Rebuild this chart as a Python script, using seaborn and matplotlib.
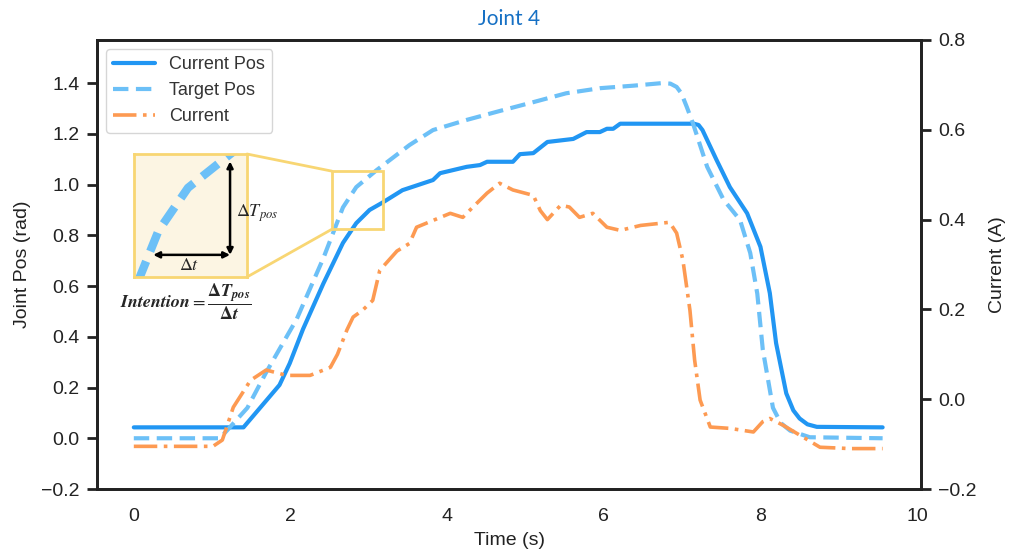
import numpy as np
import pandas as pd
import matplotlib
matplotlib.use("Agg")
import matplotlib.pyplot as plt
import seaborn as sns
from matplotlib.patches import Rectangle, ConnectionPatch

# ---------------- data ----------------
cur_pos_t = [0.0, 1.40, 1.86, 1.99, 2.16, 2.42, 2.67, 2.84, 3.01, 3.18, 3.43, 3.82, 3.91,
             4.25, 4.42, 4.51, 4.84, 4.93, 5.10, 5.28, 5.61, 5.78, 5.95, 6.04, 6.12, 6.21,
             7.15, 7.21, 7.26, 7.44, 7.61, 7.83, 8.00, 8.12, 8.20, 8.33, 8.42, 8.50, 8.60, 8.72, 9.56]
cur_pos_v = [0.043, 0.043, 0.21, 0.295, 0.43, 0.61, 0.77, 0.848, 0.90, 0.93, 0.978, 1.018, 1.045,
             1.07, 1.077, 1.09, 1.09, 1.12, 1.124, 1.168, 1.18, 1.207, 1.207, 1.22, 1.22, 1.24,
             1.24, 1.235, 1.215, 1.097, 0.99, 0.887, 0.755, 0.572, 0.375, 0.177, 0.11, 0.078, 0.055, 0.045, 0.043]

tgt_pos_t = [0.0, 1.10, 1.45, 1.69, 1.95, 2.08, 2.42, 2.67, 2.84, 3.10, 3.52, 3.82, 4.25,
             4.67, 5.10, 5.52, 5.95, 6.38, 6.74, 6.85, 6.93, 6.99, 7.06, 7.14, 7.32, 7.53, 7.74, 7.87,
             7.96, 8.03, 8.16, 8.26, 8.38, 8.63, 9.56]
tgt_pos_v = [0.0, 0.0, 0.12, 0.26, 0.40, 0.47, 0.71, 0.91, 0.99, 1.057, 1.156, 1.215, 1.255,
             1.29, 1.325, 1.36, 1.38, 1.39, 1.40, 1.398, 1.385, 1.36, 1.306, 1.24, 1.07, 0.94, 0.86, 0.73,
             0.57, 0.35, 0.12, 0.06, 0.03, 0.004, 0.0]

current_t = [0.0, 1.01, 1.13, 1.27, 1.49, 1.69, 1.95, 2.25, 2.51, 2.60, 2.72, 2.80, 2.92,
             3.05, 3.14, 3.36, 3.52, 3.61, 4.04, 4.20, 4.33, 4.51, 4.67, 4.84, 5.10, 5.19,
             5.28, 5.45, 5.56, 5.69, 5.86, 6.04, 6.21, 6.47, 6.84, 6.93, 7.01, 7.10, 7.16,
             7.23, 7.36, 7.61, 7.91, 8.03, 8.12, 8.29, 8.54, 8.76, 9.15, 9.56]
current_v = [-0.105, -0.105, -0.091, -0.018, 0.042, 0.065, 0.053, 0.053, 0.071, 0.10, 0.154, 0.183, 0.198,
             0.22, 0.287, 0.33, 0.347, 0.383, 0.414, 0.405, 0.428, 0.459, 0.481, 0.466, 0.454, 0.42,
             0.40, 0.432, 0.428, 0.405, 0.414, 0.383, 0.376, 0.387, 0.394, 0.37, 0.31, 0.198, 0.087,
             -0.002, -0.062, -0.065, -0.073, -0.05, -0.043, -0.058, -0.084, -0.107, -0.11, -0.11]

labels = ["Current Pos", "Target Pos", "Current"]
title = "Joint 4"
left_ticks = [-0.2, 0.0, 0.2, 0.4, 0.6, 0.8, 1.0, 1.2, 1.4]
right_ticks = [-0.2, 0.0, 0.2, 0.4, 0.6, 0.8]
x_ticks = [0, 2, 4, 6, 8, 10]

df_cp = pd.DataFrame({"t": cur_pos_t, "v": cur_pos_v})
df_tp = pd.DataFrame({"t": tgt_pos_t, "v": tgt_pos_v})
df_cu = pd.DataFrame({"t": current_t, "v": current_v})

# ---------------- style ----------------
sns.set_style("ticks")
plt.rcParams["font.family"] = ["Liberation Sans", "DejaVu Sans"]
plt.rcParams["mathtext.fontset"] = "stix"

C_SOLID = "#2196F3"
C_DASH = "#6CC0F7"
C_ORANGE = "#FD9A52"
C_YELLOW = "#F8D673"
C_SPINE = "#222222"

fig = plt.figure(figsize=(10.09, 5.55), dpi=100)
ax = fig.add_axes([97 / 1009, 1 - 489 / 555, 824 / 1009, 449 / 555])
ax2 = ax.twinx()

sns.lineplot(data=df_cp, x="t", y="v", ax=ax, color=C_SOLID, linewidth=3.0,
             label=labels[0], legend=False, estimator=None, sort=False,
             solid_joinstyle="round")
sns.lineplot(data=df_tp, x="t", y="v", ax=ax, color=C_DASH, linewidth=3.0,
             linestyle=(0, (3.7, 1.8)), label=labels[1], legend=False,
             estimator=None, sort=False, dash_joinstyle="round")
sns.lineplot(data=df_cu, x="t", y="v", ax=ax2, color=C_ORANGE, linewidth=2.6,
             linestyle=(0, (6.5, 1.8, 1.0, 1.8)), label=labels[2], legend=False,
             estimator=None, sort=False, dash_joinstyle="round")

ax.set_xlim(-0.47, 10.05)
ax.set_ylim(-0.2, 1.57)
ax2.set_ylim(-0.2, 0.8)
ax.set_xticks(x_ticks)
ax.set_yticks(left_ticks)
ax2.set_yticks(right_ticks)
ax.set_yticklabels([f"{v:.1f}".replace("-", "\u2212") for v in left_ticks])
ax2.set_yticklabels([f"{v:.1f}".replace("-", "\u2212") for v in right_ticks])

ax.set_xlabel("Time (s)", fontsize=14, labelpad=5, color="#222222")
ax.set_ylabel("Joint Pos (rad)", fontsize=14, labelpad=7, color="#222222")
ax2.set_ylabel("Current (A)", fontsize=14, labelpad=9, color="#222222")
ax.set_title(title, color="#1670C4", fontsize=15, family=["Lato", "DejaVu Sans"], pad=11)

for a in (ax, ax2):
    for s in a.spines.values():
        s.set_visible(True)
        s.set_color(C_SPINE)
        s.set_linewidth(2.0)
    a.tick_params(axis="y", labelsize=14, length=7.5, width=2.0, color=C_SPINE,
                  labelcolor="#222222", direction="out", pad=5)
ax.tick_params(axis="x", labelsize=14, length=0, pad=14, labelcolor="#222222")

# ---------------- inset ----------------
x0f = (134 - 97) / 824
y0f = (489 - 277) / 449
wf = 113 / 824
hf = 123 / 449
axins = ax.inset_axes([x0f, y0f, wf, hf])
sns.lineplot(data=df_tp, x="t", y="v", ax=axins, color=C_DASH, linewidth=6,
             linestyle=(0, (2.4, 1.3)), legend=False, estimator=None, sort=False)
zx0, zx1 = 2.529, 3.18
zy0, zy1 = 0.824, 1.053
axins.set_xlim(zx0, zx1)
axins.set_ylim(zy0, zy1)
axins.set_facecolor("#FCF5E3")
axins.set_xticks([])
axins.set_yticks([])
axins.set_xlabel("")
axins.set_ylabel("")
for s in axins.spines.values():
    s.set_color(C_YELLOW)
    s.set_linewidth(2.0)

axins.annotate("", xy=(0.85, 0.94), xytext=(0.85, 0.18), xycoords="axes fraction",
               arrowprops=dict(arrowstyle="<|-|>", color="black", lw=1.8,
                               mutation_scale=9, shrinkA=0, shrinkB=0))
axins.annotate("", xy=(0.17, 0.18), xytext=(0.85, 0.18), xycoords="axes fraction",
               arrowprops=dict(arrowstyle="<|-|>", color="black", lw=1.8,
                               mutation_scale=9, shrinkA=0, shrinkB=0))

ax.add_patch(Rectangle((zx0, zy0), zx1 - zx0, zy1 - zy0, fill=False,
                       edgecolor=C_YELLOW, linewidth=2.0, zorder=5))
for ya, yb in ((1, zy1), (0, zy0)):
    con = ConnectionPatch(xyA=(1, ya), coordsA=axins.transAxes,
                          xyB=(zx0, yb), coordsB=ax.transData,
                          color=C_YELLOW, linewidth=2.0)
    fig.add_artist(con)

ax.text((236 - 97) / 824, (489 - 213) / 449, r"$\Delta T_{pos}$", transform=ax.transAxes,
        fontsize=13, ha="left", va="center", zorder=10)
ax.text((189 - 97) / 824, (489 - 266) / 449, r"$\Delta t$", transform=ax.transAxes,
        fontsize=13, ha="center", va="center", zorder=10)
ax.text((120 - 97) / 824, (489 - 302) / 449,
        r"$\mathbfit{Intention} = \dfrac{\mathbf{\Delta}\mathbfit{T_{pos}}}{\mathbf{\Delta}\mathbfit{t}}$",
        transform=ax.transAxes, fontsize=13, ha="left", va="center", zorder=10)

# ---------------- legend ----------------
h1, l1 = ax.get_legend_handles_labels()
h2, l2 = ax2.get_legend_handles_labels()
leg = ax2.legend(h1 + h2, l1 + l2, loc="upper left", fontsize=13, labelspacing=0.5,
                 handlelength=2.3, frameon=True, edgecolor="#cccccc", fancybox=True,
                 labelcolor="#333333")
leg.get_frame().set_linewidth(1.0)

fig.savefig("out.png", dpi=100)
